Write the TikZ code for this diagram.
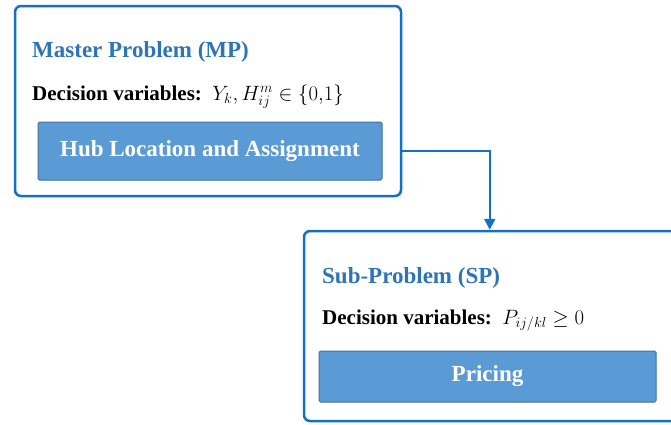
\documentclass[tikz,border=0pt]{standalone}
\usepackage{fontspec}
\setmainfont{Liberation Serif}
\usetikzlibrary{arrows.meta}
\definecolor{frameblue}{HTML}{1470C4}
\definecolor{titleblue}{HTML}{2E75B6}
\definecolor{fillblue}{HTML}{5B9BD5}
\definecolor{edgeblue}{HTML}{41719C}
\begin{document}
\begin{tikzpicture}[x=1pt,y=-1pt,
  frame/.style={draw=frameblue, line width=2.5pt, rounded corners=6pt, fill=white, inner sep=0pt},
  taskbox/.style={draw=edgeblue, line width=1pt, fill=fillblue, rounded corners=1.5pt, inner sep=0pt,
    text=white, font=\fontsize{23}{27}\selectfont\bfseries},
  title/.style={anchor=base west, inner sep=0pt, text=titleblue, font=\fontsize{23}{27}\selectfont\bfseries},
  vars/.style={anchor=base west, inner sep=0pt, font=\fontsize{21}{25}\selectfont},
  link/.style={draw=frameblue, line width=2.5pt, -{Triangle[length=11pt,width=11pt]}}]
\useasboundingbox (0,0) rectangle (671,424);
\clip (0,0) rectangle (671,424);
% Master problem
\node[frame, minimum width=386pt, minimum height=190pt] (mp) at (208,101) {};
\node[taskbox, minimum width=344pt, minimum height=58pt] (hub) at (210,151) {\raisebox{4pt}{Hub Location and Assignment}};
\node[title] (mpt) at (32,57) {Master Problem (MP)};
\node[vars] (mpv) at (32,100) {\textbf{Decision variables:}\enspace $Y_k, H_{ij}^{m} \in \{0{,}1\}$};
% Sub problem
\node[frame, minimum width=386pt, minimum height=190pt] (sp) at (497,326) {};
\node[taskbox, minimum width=337pt, minimum height=51pt] (pr) at (487.5,376.5) {\raisebox{2pt}{Pricing}};
\node[title] (spt) at (322,283) {Sub-Problem (SP)};
\node[vars] (spv) at (322,324) {\textbf{Decision variables:}\enspace $P_{ij/kl} \geq 0$};
% connector
\draw[link] (mp.east |- hub.east) -| ([xshift=187pt]sp.north west);
\end{tikzpicture}
\end{document}
